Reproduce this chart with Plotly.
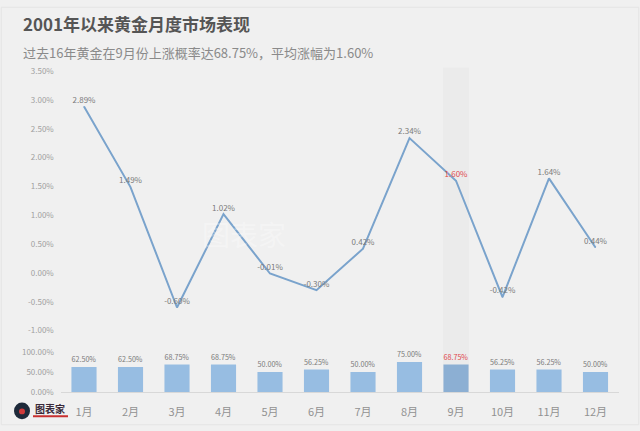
import plotly.graph_objects as go

months = ["1月", "2月", "3月", "4月", "5月", "6月", "7月", "8月", "9月", "10月", "11月", "12月"]
avg_return = [2.89, 1.49, -0.60, 1.02, -0.01, -0.30, 0.42, 2.34, 1.60, -0.42, 1.64, 0.44]
up_prob = [62.50, 62.50, 68.75, 68.75, 50.00, 56.25, 50.00, 75.00, 68.75, 56.25, 56.25, 50.00]
top_ticks = [-1.0, -0.5, 0.0, 0.5, 1.0, 1.5, 2.0, 2.5, 3.0, 3.5]
bottom_ticks = [0, 50, 100]
highlight = "9月"

FONT = "Noto Sans CJK SC, Noto Sans, sans-serif"
BG = "#f0f0f0"
RED = "#e0484c"
GRAY_TXT = "#7a7a7a"

xi = list(range(len(months)))
hi = months.index(highlight)

line_text_colors = [RED if m == highlight else GRAY_TXT for m in months]
bar_text_colors = [RED if m == highlight else GRAY_TXT for m in months]
bar_colors = ["#8cafd3" if m == highlight else "#97bde2" for m in months]

fig = go.Figure()

fig.add_trace(go.Scatter(
    x=xi, y=avg_return, mode="lines+markers+text",
    line=dict(color="#7aa3cc", width=2),
    marker=dict(size=1, color="#7aa3cc"),
    text=[f"{v:.2f}%" for v in avg_return],
    textposition="top center",
    textfont=dict(size=8, color=line_text_colors, family=FONT),
    cliponaxis=False, xaxis="x", yaxis="y", hoverinfo="skip",
))

fig.add_trace(go.Bar(
    x=xi, y=up_prob, marker=dict(color=bar_colors, line=dict(width=0)),
    width=0.54,
    text=[f"{v:.2f}%" for v in up_prob],
    textposition="outside",
    textfont=dict(size=8, color=bar_text_colors, family=FONT),
    cliponaxis=False, xaxis="x2", yaxis="y2", hoverinfo="skip",
))

xdom = [60.75 / 640, 618.75 / 640]

fig.update_layout(
    width=640, height=431,
    margin=dict(l=0, r=0, t=0, b=0),
    paper_bgcolor=BG, plot_bgcolor="rgba(0,0,0,0)",
    showlegend=False,
    font=dict(family=FONT),
    xaxis=dict(domain=xdom, range=[-0.5, 11.5], visible=False, fixedrange=True),
    yaxis=dict(domain=[(431 - 336) / 431, (431 - 64) / 431], range=[-1.05, 3.55],
               tickvals=top_ticks, ticktext=[f"{v:.2f}%" for v in top_ticks],
               showgrid=False, zeroline=False, showline=False, ticks="",
               tickfont=dict(size=8, color="#a0a0a0", family=FONT),
               ticklabelstandoff=6),
    xaxis2=dict(domain=xdom, range=[-0.5, 11.5], anchor="y2",
                tickvals=xi, ticktext=months, showgrid=False, zeroline=False,
                showline=True, linecolor="#d8d8d8", linewidth=1, ticks="",
                tickfont=dict(size=11, color="#929292", family=FONT),
                ticklabelstandoff=10),
    yaxis2=dict(domain=[35 / 431, 76 / 431], range=[0, 100], anchor="x2",
                tickvals=bottom_ticks, ticktext=[f"{v:.2f}%" for v in bottom_ticks],
                showgrid=False, zeroline=False, showline=False, ticks="",
                tickfont=dict(size=8, color="#a0a0a0", family=FONT),
                ticklabelstandoff=6),
)

# highlight column for September
fig.add_shape(type="rect", xref="x", yref="paper",
              x0=hi - 0.28, x1=hi + 0.28, y0=(431 - 397) / 431, y1=(431 - 63) / 431,
              fillcolor="#ebebeb", line=dict(width=0), layer="below")

# outer frame
fig.add_shape(type="rect", xref="paper", yref="paper", x0=0.002, x1=0.998, y0=0.003, y1=0.997,
              line=dict(color="#e4e4e4", width=1), fillcolor="rgba(0,0,0,0)", layer="below")

# Title and subtitle
fig.add_annotation(xref="paper", yref="paper", x=21 / 640, y=1 - 18 / 431,
                   text="<b>2001年以来黄金月度市场表现</b>", showarrow=False,
                   xanchor="left", yanchor="middle",
                   font=dict(size=17, color="#555555", family=FONT))
fig.add_annotation(xref="paper", yref="paper", x=21 / 640, y=1 - 48 / 431,
                   text="过去16年黄金在9月份上涨概率达68.75%，平均涨幅为1.60%", showarrow=False,
                   xanchor="left", yanchor="middle",
                   font=dict(size=13, color="#8a8a8a", family=FONT))

# faint watermark
fig.add_annotation(xref="paper", yref="paper", x=200 / 640, y=1 - 234 / 431,
                   text="图表家", showarrow=False,
                   font=dict(size=28, color="rgba(255,255,255,0.3)", family=FONT))

# logo bottom-left
fig.add_shape(type="circle", xref="paper", yref="paper",
              x0=14 / 640, x1=30 / 640, y0=1 - 424 / 431, y1=1 - 407 / 431,
              fillcolor="#1e2a3a", line=dict(width=0))
fig.add_shape(type="circle", xref="paper", yref="paper",
              x0=19 / 640, x1=25 / 640, y0=1 - 419 / 431, y1=1 - 413 / 431,
              fillcolor="#d03a3a", line=dict(width=0))
fig.add_annotation(xref="paper", yref="paper", x=33 / 640, y=1 - 413 / 431,
                   text="<b>图表家</b>", showarrow=False, xanchor="left", yanchor="middle",
                   font=dict(size=10, color="#3a2a3a", family=FONT))
fig.add_shape(type="rect", xref="paper", yref="paper",
              x0=33 / 640, x1=68 / 640, y0=1 - 422 / 431, y1=1 - 420 / 431,
              fillcolor="#c83030", line=dict(width=0))

fig.write_html("out.html")
